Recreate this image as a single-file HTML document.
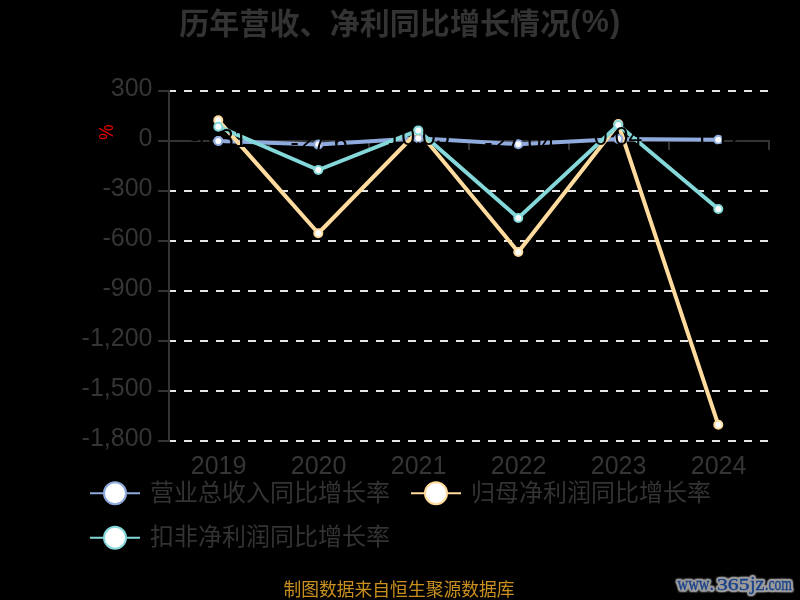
<!DOCTYPE html>
<html lang="zh-CN">
<head>
<meta charset="utf-8">
<title>历年营收、净利同比增长情况(%)</title>
<style>
html,body{margin:0;padding:0;background:#000;}
body{width:800px;height:600px;overflow:hidden;position:relative;font-family:"Liberation Sans","Noto Sans CJK SC",sans-serif;}
svg{will-change:transform;position:absolute;left:0;top:0;display:block;}
text{font-family:"Liberation Sans","Noto Sans CJK SC",sans-serif;}
.ax{font-size:25px;fill:#353535;}
.lg{font-size:24px;fill:#333;}
.dl{font-size:25px;fill:#000;}
.ttl{font-size:30px;font-weight:bold;fill:#333;}
.src{font-size:17.8px;fill:#c9901f;}
.wm{font-family:"Liberation Serif","Noto Serif CJK SC",serif;font-size:18.5px;font-weight:normal;fill:#17408a;stroke:#17408a;stroke-width:0.35px;stroke-linejoin:round;}
</style>
</head>
<body>
<svg width="800" height="600" viewBox="0 0 800 600">
<rect x="0" y="0" width="800" height="600" fill="#000"/>
<defs>
<filter id="halo" x="-5%" y="-40%" width="110%" height="180%" color-interpolation-filters="sRGB">
<feMorphology in="SourceAlpha" operator="dilate" radius="1" result="d"/>
<feGaussianBlur in="d" stdDeviation="0.8" result="b"/>
<feComponentTransfer in="b" result="a"><feFuncA type="linear" slope="3.2" intercept="0"/></feComponentTransfer>
<feFlood flood-color="#9a9a9a" result="c"/>
<feComposite in="c" in2="a" operator="in" result="h"/>
<feMerge><feMergeNode in="h"/><feMergeNode in="SourceGraphic"/></feMerge>
</filter>
</defs>
<!-- title -->
<text class="ttl" x="179.3" y="33.6" letter-spacing="0.07">历年营收、净利同比增长情况<tspan x="570.2" dy="-1.6" font-size="30.5" letter-spacing="1.3">(%)</tspan></text>

<!-- split lines -->
<g stroke="#e6e6e6" stroke-width="2" stroke-dasharray="8,8" fill="none">
<line x1="168" y1="91" x2="770" y2="91"/><line x1="168" y1="191" x2="770" y2="191"/><line x1="168" y1="241" x2="770" y2="241"/><line x1="168" y1="291" x2="770" y2="291"/><line x1="168" y1="341" x2="770" y2="341"/><line x1="168" y1="391" x2="770" y2="391"/><line x1="168" y1="441" x2="770" y2="441"/>
</g>

<!-- axes -->
<g stroke="#333" stroke-width="2" fill="none">
<line x1="169" y1="90" x2="169" y2="442"/>
<line x1="168" y1="141" x2="770" y2="141"/>
<path d="M158 91H169M158 141H169M158 191H169M158 241H169M158 291H169M158 341H169M158 391H169M158 441H169"/>
<path d="M269 140V150M369 140V150M469 140V150M569 140V150M669 140V150M769 140V150"/>
</g>

<!-- y labels -->
<g class="ax" text-anchor="end">
<text x="152.5" y="96">300</text><text x="152.5" y="146">0</text><text x="152.5" y="196">-300</text><text x="152.5" y="246">-600</text><text x="152.5" y="296">-900</text><text x="152.5" y="346">-1,200</text><text x="152.5" y="396">-1,500</text><text x="152.5" y="446">-1,800</text>
</g>
<!-- x labels -->
<g class="ax" text-anchor="middle">
<text x="218.6" y="473.5">2019</text><text x="318.6" y="473.5">2020</text><text x="418.6" y="473.5">2021</text><text x="518.6" y="473.5">2022</text><text x="618.6" y="473.5">2023</text><text x="718.6" y="473.5">2024</text>
</g>
<!-- unit -->
<text transform="translate(106,132) rotate(-90) scale(0.86,1)" x="0" y="7.2" font-size="20" fill="#e60000" text-anchor="middle">%</text>

<!-- series lines -->
<g fill="none" stroke-width="4" stroke-linejoin="bevel" stroke-linecap="butt">
<polyline stroke="#8faadc" points="218.3,141.00 318.3,144.60 418.3,138.30 518.3,144.20 618.3,139.00 718.3,139.70"/>
<polyline stroke="#ffdb9e" points="218.3,120.30 318.3,233.25 418.3,131.00 518.3,252.00 618.3,124.00 718.3,424.80"/>
<polyline stroke="#84d8da" points="218.3,126.70 318.3,170.00 418.3,130.40 518.3,217.90 618.3,125.00 718.3,209.00"/>
</g>
<!-- symbols -->
<g fill="#fff" stroke-width="2">
<g stroke="#8faadc"><circle cx="218.3" cy="141.00" r="4"/><circle cx="318.3" cy="144.60" r="4"/><circle cx="418.3" cy="138.30" r="4"/><circle cx="518.3" cy="144.20" r="4"/><circle cx="618.3" cy="139.00" r="4"/><circle cx="718.3" cy="139.70" r="4"/></g>
<g stroke="#ffdb9e"><circle cx="218.3" cy="120.30" r="4"/><circle cx="318.3" cy="233.25" r="4"/><circle cx="418.3" cy="131.00" r="4"/><circle cx="518.3" cy="252.00" r="4"/><circle cx="618.3" cy="124.00" r="4"/><circle cx="718.3" cy="424.80" r="4"/></g>
<g stroke="#84d8da"><circle cx="218.3" cy="126.70" r="4"/><circle cx="318.3" cy="170.00" r="4"/><circle cx="418.3" cy="130.40" r="4"/><circle cx="518.3" cy="217.90" r="4"/><circle cx="618.3" cy="125.00" r="4"/><circle cx="718.3" cy="209.00" r="4"/></g>
</g>
<!-- data labels (black, series 1) -->
<g class="dl" text-anchor="middle">
<text x="219.1" y="147.3">-6.31</text><text x="319.1" y="150.9">-27.6</text><text x="418.6" y="144.6">10.05</text><text x="519.8" y="150.5">-27.04</text><text x="618.1" y="145.3">0.04</text><text x="719.1" y="146.0">1.12</text>
</g>

<circle cx="218.3" cy="141.00" r="4" fill="#fff" stroke="#8faadc" stroke-width="2"/>

<!-- legend -->
<g stroke-width="2" fill="#fff">
<g stroke="#8faadc"><line x1="90" y1="493.25" x2="140" y2="493.25"/><circle cx="115" cy="493.25" r="11"/></g>
<g stroke="#ffdb9e"><line x1="411" y1="493.25" x2="461" y2="493.25"/><circle cx="436" cy="493.25" r="11"/></g>
<g stroke="#84d8da"><line x1="90" y1="537.75" x2="140" y2="537.75"/><circle cx="115" cy="537.75" r="11"/></g>
</g>
<g class="lg">
<text x="150" y="500.5">营业总收入同比增长率</text>
<text x="471" y="500.5">归母净利润同比增长率</text>
<text x="150" y="545">扣非净利润同比增长率</text>
</g>

<!-- source -->
<text class="src" x="399" y="595.7" text-anchor="middle">制图数据来自恒生聚源数据库</text>
<!-- watermark -->
<text class="wm" filter="url(#halo)" x="677" y="589.5" lengthAdjust="spacingAndGlyphs"><tspan x="677.5" textLength="32" lengthAdjust="spacingAndGlyphs">www</tspan><tspan x="709.8" textLength="4" lengthAdjust="spacingAndGlyphs">.</tspan><tspan x="717" textLength="32.5" lengthAdjust="spacingAndGlyphs" font-size="16.6">365</tspan><tspan x="750" textLength="14.5" lengthAdjust="spacingAndGlyphs">jz</tspan><tspan x="765" textLength="27" lengthAdjust="spacingAndGlyphs">.com</tspan></text>
</svg>
</body>
</html>
